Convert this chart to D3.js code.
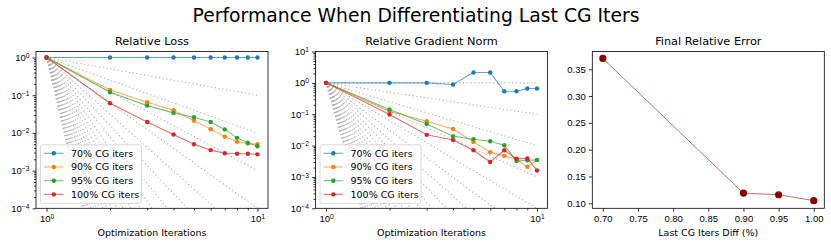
<!DOCTYPE html>
<html>
<head>
<meta charset="utf-8">
<script src="https://cdn.jsdelivr.net/npm/d3@7"></script>
<style>
  body { margin: 0; background: #fff; }
  svg { display: block; font-family: "DejaVu Sans", sans-serif; }
</style>
</head>
<body>
<div id="container"></div>
<script>
(function(){

    // ---------------------------------------------------------------- data
    const iters = [1, 2, 3, 4, 5, 6, 7, 8, 9, 10];
    const seriesNames = ["70% CG iters", "90% CG iters", "95% CG iters", "100% CG iters"];
    const seriesColors = ["#1f77b4", "#ff7f0e", "#2ca02c", "#d62728"];

    const loss70  = [1, 1, 1, 1, 1, 1, 1, 1, 1, 1];
    const loss90  = [1, 0.138, 0.065, 0.040, 0.021, 0.0126, 0.0079, 0.0058, 0.0052, 0.0050];
    const loss95  = [1, 0.120, 0.053, 0.034, 0.026, 0.0195, 0.0124, 0.0074, 0.0055, 0.0044];
    const loss100 = [1, 0.061, 0.0195, 0.0091, 0.0050, 0.0035, 0.0029, 0.0028, 0.0028, 0.0027];

    const grad70  = [1, 1.0, 1.0, 0.89, 2.15, 2.15, 0.54, 0.54, 0.66, 0.66];
    const grad90  = [1, 0.125, 0.060, 0.034, 0.0131, 0.0061, 0.0047, 0.0037, 0.0021, 0.0035];
    const grad95  = [1, 0.141, 0.049, 0.020, 0.016, 0.0138, 0.0102, 0.0032, 0.0034, 0.0035];
    const grad100 = [1, 0.098, 0.022, 0.015, 0.0071, 0.0030, 0.0071, 0.0038, 0.0039, 0.0016];

    const cgFractions = [0.70, 0.90, 0.95, 1.00];
    const finalError  = [0.370, 0.119, 0.116, 0.105];

    // reference slopes y = x^-p
    const refPowers = [0, 1, 2, 3, 4, 5, 6, 7, 8, 9, 10, 11, 12, 13, 14, 15, 16, 17, 18, 19, 20, 21, 22, 23, 24];

    const logXTicks = [1, 10];
    const lossYTicks = [1e-4, 1e-3, 1e-2, 1e-1, 1];
    const gradYTicks = [1e-4, 1e-3, 1e-2, 1e-1, 1, 10];
    const errXTicks = [0.70, 0.75, 0.80, 0.85, 0.90, 0.95, 1.00];
    const errYTicks = [0.10, 0.15, 0.20, 0.25, 0.30, 0.35];

    // ---------------------------------------------------------------- layout
    const width = 831, height = 245;
    const top = 51.5, bottom = 208.3;
    const panelW = 232;
    const fontTick = 9.5, fontTitle = 11.3;

    const svg = d3.select("#container").append("svg")
        .attr("width", width)
        .attr("height", height);

    svg.append("text")
        .attr("x", 416)
        .attr("y", 21.5)
        .attr("text-anchor", "middle")
        .style("font-size", "18.8px")
        .text("Performance When Differentiating Last CG Iters");

    // ---------------------------------------------------------------- helpers
    function minorLogTicks(lo, hi) {
        const out = [];
        for (let e = lo; e < hi; e++)
            for (let m = 2; m <= 9; m++) out.push(m * Math.pow(10, e));
        return out;
    }

    function supLabels(g) {
        g.selectAll(".tick text").each(function(d) {
            const t = d3.select(this);
            const e = Math.round(Math.log10(d));
            t.text("10");
            t.append("tspan")
                .attr("dy", "-0.45em")
                .style("font-size", "0.7em")
                .text(e < 0 ? "\u2212" + (-e) : e);
        });
    }

    function styleAxis(g) {
        g.select(".domain").remove();
        g.selectAll(".tick line").attr("stroke", "#000").attr("stroke-width", 0.8);
        g.selectAll(".tick text").style("font-size", fontTick + "px").attr("fill", "#000");
    }

    function frame(g, x0) {
        g.append("rect")
            .attr("x", x0).attr("y", top)
            .attr("width", panelW).attr("height", bottom - top)
            .attr("fill", "none").attr("stroke", "#000").attr("stroke-width", 0.8);
    }

    function panelTitle(x0, label) {
        svg.append("text")
            .attr("x", x0 + panelW / 2).attr("y", top - 6.5)
            .attr("text-anchor", "middle")
            .style("font-size", fontTitle + "px")
            .text(label);
    }

    function xLabel(x0, label) {
        svg.append("text")
            .attr("x", x0 + panelW / 2).attr("y", 235.5)
            .attr("text-anchor", "middle")
            .style("font-size", fontTick + "px")
            .text(label);
    }

    function logPanel(x0, id, yDomain, yTicks, seriesList, title) {
        const x = d3.scaleLog().domain([Math.pow(10, -0.05), Math.pow(10, 1.05)]).range([x0, x0 + panelW]);
        const y = d3.scaleLog().domain(yDomain).range([bottom, top]);

        const clip = svg.append("clipPath").attr("id", "clip" + id)
            .append("rect").attr("x", x0).attr("y", top)
            .attr("width", panelW).attr("height", bottom - top);

        const plot = svg.append("g").attr("clip-path", `url(#clip${id})`);

        // dotted reference lines
        plot.append("g").selectAll("line")
            .data(refPowers)
            .join("line")
            .attr("x1", x(1)).attr("y1", y(1))
            .attr("x2", x(10)).attr("y2", p => y(Math.pow(10, -p)))
            .attr("stroke", "#b0b0b0")
            .attr("stroke-width", 1.1)
            .attr("stroke-dasharray", "1.2,2.6");

        const line = d3.line().x((d, i) => x(iters[i])).y(d => y(d));

        seriesList.forEach((vals, si) => {
            plot.append("path")
                .datum(vals)
                .attr("d", line)
                .attr("fill", "none")
                .attr("stroke", seriesColors[si])
                .attr("stroke-opacity", 0.65)
                .attr("stroke-width", 1.1);
            plot.append("g").selectAll("circle")
                .data(vals)
                .join("circle")
                .attr("cx", (d, i) => x(iters[i]))
                .attr("cy", d => y(d))
                .attr("r", 2.2)
                .attr("fill", seriesColors[si]);
        });

        // axes
        const lo = Math.floor(Math.log10(yDomain[0]));
        const hi = Math.ceil(Math.log10(yDomain[1]));
        svg.append("g").attr("transform", `translate(${x0},0)`)
            .call(d3.axisLeft(y).tickValues(minorLogTicks(lo, hi).filter(v => v <= yDomain[1])).tickSize(2).tickFormat(""))
            .call(styleAxis);
        svg.append("g").attr("transform", `translate(${x0},0)`)
            .call(d3.axisLeft(y).tickValues(yTicks).tickSize(3.4).tickPadding(3.2))
            .call(styleAxis).call(supLabels);

        svg.append("g").attr("transform", `translate(0,${bottom})`)
            .call(d3.axisBottom(x).tickValues(minorLogTicks(0, 1)).tickSize(2).tickFormat(""))
            .call(styleAxis);
        svg.append("g").attr("transform", `translate(0,${bottom})`)
            .call(d3.axisBottom(x).tickValues(logXTicks).tickSize(3.4).tickPadding(3.2))
            .call(styleAxis).call(supLabels);

        frame(svg, x0);
        panelTitle(x0, title);
        xLabel(x0, "Optimization Iterations");

        // legend
        const lg = svg.append("g").attr("transform", `translate(${x0 + 4.5},${y(1e-4) - 63.5})`);
        lg.append("rect")
            .attr("width", 101).attr("height", 58.5).attr("rx", 2)
            .attr("fill", "#fff").attr("fill-opacity", 0.8)
            .attr("stroke", "#d0d0d0").attr("stroke-width", 0.8);
        seriesNames.forEach((name, i) => {
            const yy = 8.5 + i * 13.7;
            lg.append("line")
                .attr("x1", 3.5).attr("x2", 23).attr("y1", yy).attr("y2", yy)
                .attr("stroke", seriesColors[i]).attr("stroke-opacity", 0.65).attr("stroke-width", 1.1);
            lg.append("circle").attr("cx", 13.3).attr("cy", yy).attr("r", 2.2).attr("fill", seriesColors[i]);
            lg.append("text").attr("x", 30.5).attr("y", yy + 3.4)
                .style("font-size", fontTick + "px").text(name);
        });
    }

    logPanel(36, 1, [1e-4, Math.pow(10, 0.16)], lossYTicks, [loss70, loss90, loss95, loss100], "Relative Loss");
    logPanel(315.5, 2, [1e-4, 10], gradYTicks, [grad70, grad90, grad95, grad100], "Relative Gradient Norm");

    // ---------------------------------------------------------------- panel 3
    const x3 = 592.3;
    const ex = d3.scaleLinear().domain([0.685, 1.015]).range([x3, x3 + panelW]);
    const ey = d3.scaleLinear().domain([0.0907, 0.383]).range([bottom, top]);

    svg.append("path")
        .datum(finalError)
        .attr("d", d3.line().x((d, i) => ex(cgFractions[i])).y(d => ey(d)))
        .attr("fill", "none")
        .attr("stroke", "#8b0000")
        .attr("stroke-opacity", 0.7)
        .attr("stroke-width", 0.8);
    svg.append("g").selectAll("circle")
        .data(finalError)
        .join("circle")
        .attr("cx", (d, i) => ex(cgFractions[i]))
        .attr("cy", d => ey(d))
        .attr("r", 3.6)
        .attr("fill", "#8b0000");

    svg.append("g").attr("transform", `translate(${x3},0)`)
        .call(d3.axisLeft(ey).tickValues(errYTicks).tickSize(3.4).tickPadding(3.2).tickFormat(d3.format(".2f")))
        .call(styleAxis);
    svg.append("g").attr("transform", `translate(0,${bottom})`)
        .call(d3.axisBottom(ex).tickValues(errXTicks).tickSize(3.4).tickPadding(3.2).tickFormat(d3.format(".2f")))
        .call(styleAxis);

    frame(svg, x3);
    panelTitle(x3, "Final Relative Error");
    xLabel(x3, "Last CG Iters Diff (%)");

})();
</script>
</body>
</html>
